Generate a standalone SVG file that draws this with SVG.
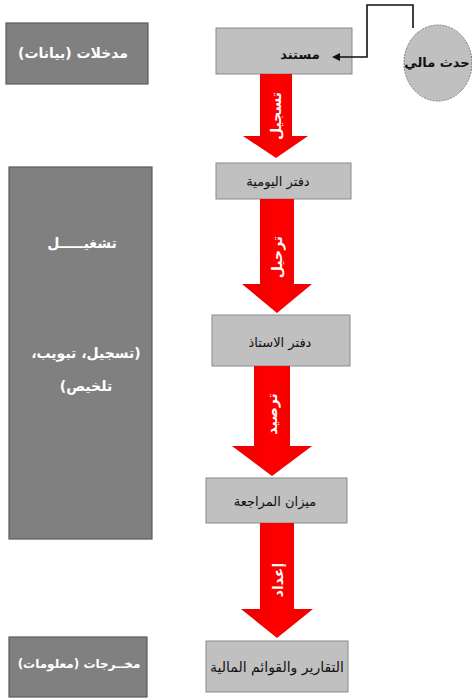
<svg xmlns="http://www.w3.org/2000/svg" width="472" height="698" viewBox="0 0 472 698">
<style>
text{direction:rtl;unicode-bidi:embed}
.side{fill:#808080;stroke:#5a5a5a;stroke-width:1.2}
.box{fill:#c0c0c0;stroke:#8a8a8a;stroke-width:1}
.st{font-family:"DejaVu Sans","Noto Sans",sans-serif;font-weight:bold;fill:#ffffff;font-size:14px;text-anchor:middle}
.bt{font-family:"DejaVu Sans",sans-serif;fill:#111;font-size:13px;text-anchor:middle}
.arr{fill:url(#rg)}
.at{font-family:"DejaVu Sans",sans-serif;font-weight:bold;fill:#fff;font-size:14px;text-anchor:middle}
.conn{fill:none;stroke:#111;stroke-width:1.6}
</style>
<defs>
<linearGradient id="rg" x1="0" y1="0" x2="1" y2="0">
<stop offset="0" stop-color="#e80000"/>
<stop offset="0.5" stop-color="#ff0000"/>
<stop offset="1" stop-color="#f00000"/>
</linearGradient>
<marker id="ah" markerWidth="8" markerHeight="8" refX="6" refY="4" orient="auto" markerUnits="userSpaceOnUse">
<path d="M0,0 L8,4 L0,8 Z" fill="#111"/>
</marker>
</defs>

<g id="inputs"><rect class="side" x="6" y="23" width="142" height="61"/><text class="st" x="73" y="58" direction="rtl">مدخلات (بيانات)</text></g>
<g id="processing"><rect class="side" x="9" y="167" width="143" height="372"/>
<text class="st" x="82" y="248" direction="rtl">تشغيـــــل</text>
<text class="st" x="86" y="358" direction="rtl">(تسجيل، تبويب،</text>
<text class="st" x="86" y="391" direction="rtl">تلخيص)</text></g>
<g id="outputs"><rect class="side" x="9" y="637" width="138" height="60"/><text class="st" x="79" y="668" style="font-size:12px" direction="rtl">مخــرجات (معلومات)</text></g>

<g id="event"><ellipse cx="438" cy="63" rx="34" ry="38" fill="#c0c0c0" stroke="#777" stroke-width="1" stroke-dasharray="2,1"/><text class="bt" x="437" y="67" style="font-size:13px;font-weight:bold" direction="rtl">حدث مالي</text></g>

<g id="doc"><rect class="box" x="216" y="28" width="136" height="46"/><text class="bt" x="300" y="59" style="font-weight:bold" direction="rtl">مستند</text></g>
<g id="journal"><rect class="box" x="216" y="163" width="135" height="36"/><text class="bt" x="278" y="186" direction="rtl">دفتر اليومية</text></g>
<g id="ledger"><rect class="box" x="212" y="315" width="138" height="51"/><text class="bt" x="280" y="347" direction="rtl">دفتر الاستاذ</text></g>
<g id="trial"><rect class="box" x="206" y="478" width="141" height="45"/><text class="bt" x="275" y="506" direction="rtl">ميزان المراجعة</text></g>
<g id="reports"><rect class="box" x="206" y="641" width="142" height="51"/><text class="bt" x="277" y="672" style="font-size:14px" direction="rtl">التقارير والقوائم المالية</text></g>

<g id="connectors">
<path class="conn" d="M413,28 L413,5 L367,5 L367,57 L334,57" marker-end="url(#ah)"/>
<polygon class="arr" points="260,74 292,74 292,136 308,136 276,158 243,136 260,136"/>
<text class="at" transform="translate(281,116) rotate(-90)" direction="rtl">تسجيل</text>
<polygon class="arr" points="260,199 294,199 294,284 312,284 277,313 242,284 260,284"/>
<text class="at" transform="translate(282,257) rotate(-90)" direction="rtl">ترحيل</text>
<polygon class="arr" points="254,366 290,366 290,446 312,446 272,476 232,446 254,446"/>
<text class="at" transform="translate(277,414) rotate(-90)" direction="rtl">ترصيد</text>
<polygon class="arr" points="260,523 294,523 294,609 313,609 277,638 241,609 260,609"/>
<text class="at" transform="translate(283,580) rotate(-90)" direction="rtl">إعداد</text>
</g>
</svg>
